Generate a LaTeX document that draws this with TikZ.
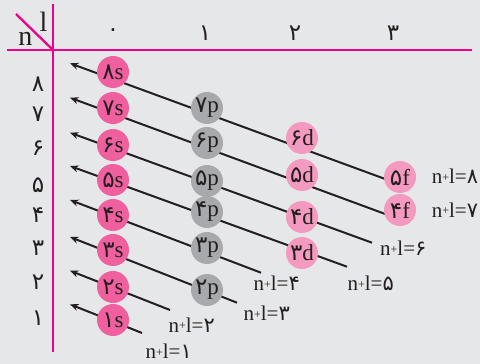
\documentclass[tikz,border=0pt]{standalone}
\usepackage{fontspec}
\setmainfont{Liberation Serif}
\newfontfamily\fadigits[Script=Arabic]{DejaVu Sans}
\usepackage{xcolor}
\usepackage{tikz}
\usetikzlibrary{arrows.meta}
\definecolor{fundo}{HTML}{E6E7E8}
\definecolor{eixo}{HTML}{EC008C}
\definecolor{rosa}{HTML}{F0609F}
\definecolor{rosaclaro}{HTML}{F49AC1}
\definecolor{cinza}{HTML}{A7A9AC}
\definecolor{tinta}{HTML}{231F20}
\tikzset{
  orb/.style={circle, minimum size=32pt, inner sep=0pt, text=tinta, font=\fontsize{23}{23}\selectfont},
  sorb/.style={orb, fill=rosa},
  porb/.style={orb, fill=cinza},
  dorb/.style={orb, fill=rosaclaro},
  linha/.style={draw=eixo, line width=2.3pt},
  seta/.style={-{Stealth[length=8.5pt,width=7pt]}, draw=tinta, line width=2pt},
  regra/.style={font=\fontsize{21}{21}\selectfont, text=tinta, inner sep=0pt},
  rotulo/.style={font=\fontsize{23}{23}\selectfont, text=tinta, inner sep=0pt},
  eixolabel/.style={font=\fontsize{28}{28}\selectfont, text=tinta, inner sep=0pt},
}
\newcommand{\fa}[1]{{\fadigits #1}}
\newcommand{\orbital}[2]{\fa{#1}#2}
\newcommand{\nmaisl}[1]{n\raisebox{.12em}{\fontsize{12}{12}\selectfont+}l=\fa{#1}}

\begin{document}
\begin{tikzpicture}[x=1pt, y=-1pt]
    \fill[fundo] (0,0) rectangle (480,364);
    % eixos da tabela
    \coordinate (canto) at (53,50);
    \draw[linha] (53,4) -- (canto) -- (53,352);
    \draw[linha] (7,50) -- (canto) -- (472,50);
    \draw[linha] (16,14) -- (canto);
    \node[eixolabel] (n) at (25.5,38.5) {n};
    \node[eixolabel] (l) at (43.5,22) {l};
    \foreach \d/\x in {۰/113, ۱/205, ۲/295, ۳/393}
      \node[rotulo] (l\x) at (\x,33) {\fa{\d}};
    \foreach \d/\y in {۸/84, ۷/114, ۶/148, ۵/185, ۴/215, ۳/248, ۲/282, ۱/318}
      \node[rotulo] (n\y) at (38,\y) {\fa{\d}};
    % diagonais n+l
    \foreach \k/\ya/\xb/\yb in {1/304.3/142/333, 2/270.7/170/310, 3/237/237/302.7, 4/200/261/272.7,
        5/166/347/266.7, 6/132.7/372/242.7, 7/97.7/392/216.5, 8/63.3/392/181.5} {
      \coordinate (a\k) at (70,\ya);
      \coordinate (b\k) at (\xb,\yb);
      \draw[seta] (b\k) -- (a\k);
    }
    % subcamadas
    \foreach \d/\n/\y in {۸/8/72, ۷/7/108, ۶/6/145, ۵/5/180, ۴/4/215, ۳/3/250, ۲/2/287, ۱/1/320}
      \node[sorb] (s\n) at (113,\y) {\orbital{\d}{s}};
    \foreach \d/\n/\y in {۷/7/108, ۶/6/143, ۵/5/181, ۴/4/212, ۳/3/248, ۲/2/290}
      \node[porb] (p\n) at (207,\y) {\orbital{\d}{p}};
    \foreach \d/\n/\y in {۶/6/138, ۵/5/175, ۴/4/217, ۳/3/253}
      \node[dorb] (d\n) at (302,\y) {\orbital{\d}{d}};
    \foreach \d/\n/\y in {۵/5/177, ۴/4/210}
      \node[dorb] (f\n) at (400,\y) {\orbital{\d}{f}};
    % valores de n+l
    \foreach \d/\k/\x/\y in {۱/1/168.7/351.7, ۲/2/191.7/325, ۳/3/266.7/313.3, ۴/4/276.7/283.3,
        ۵/5/370.7/283.3, ۶/6/403.3/248.3, ۷/7/455/210, ۸/8/455/176.7}
      \node[regra] (r\k) at (\x,\y) {\nmaisl{\d}};
  \end{tikzpicture}
\end{document}
